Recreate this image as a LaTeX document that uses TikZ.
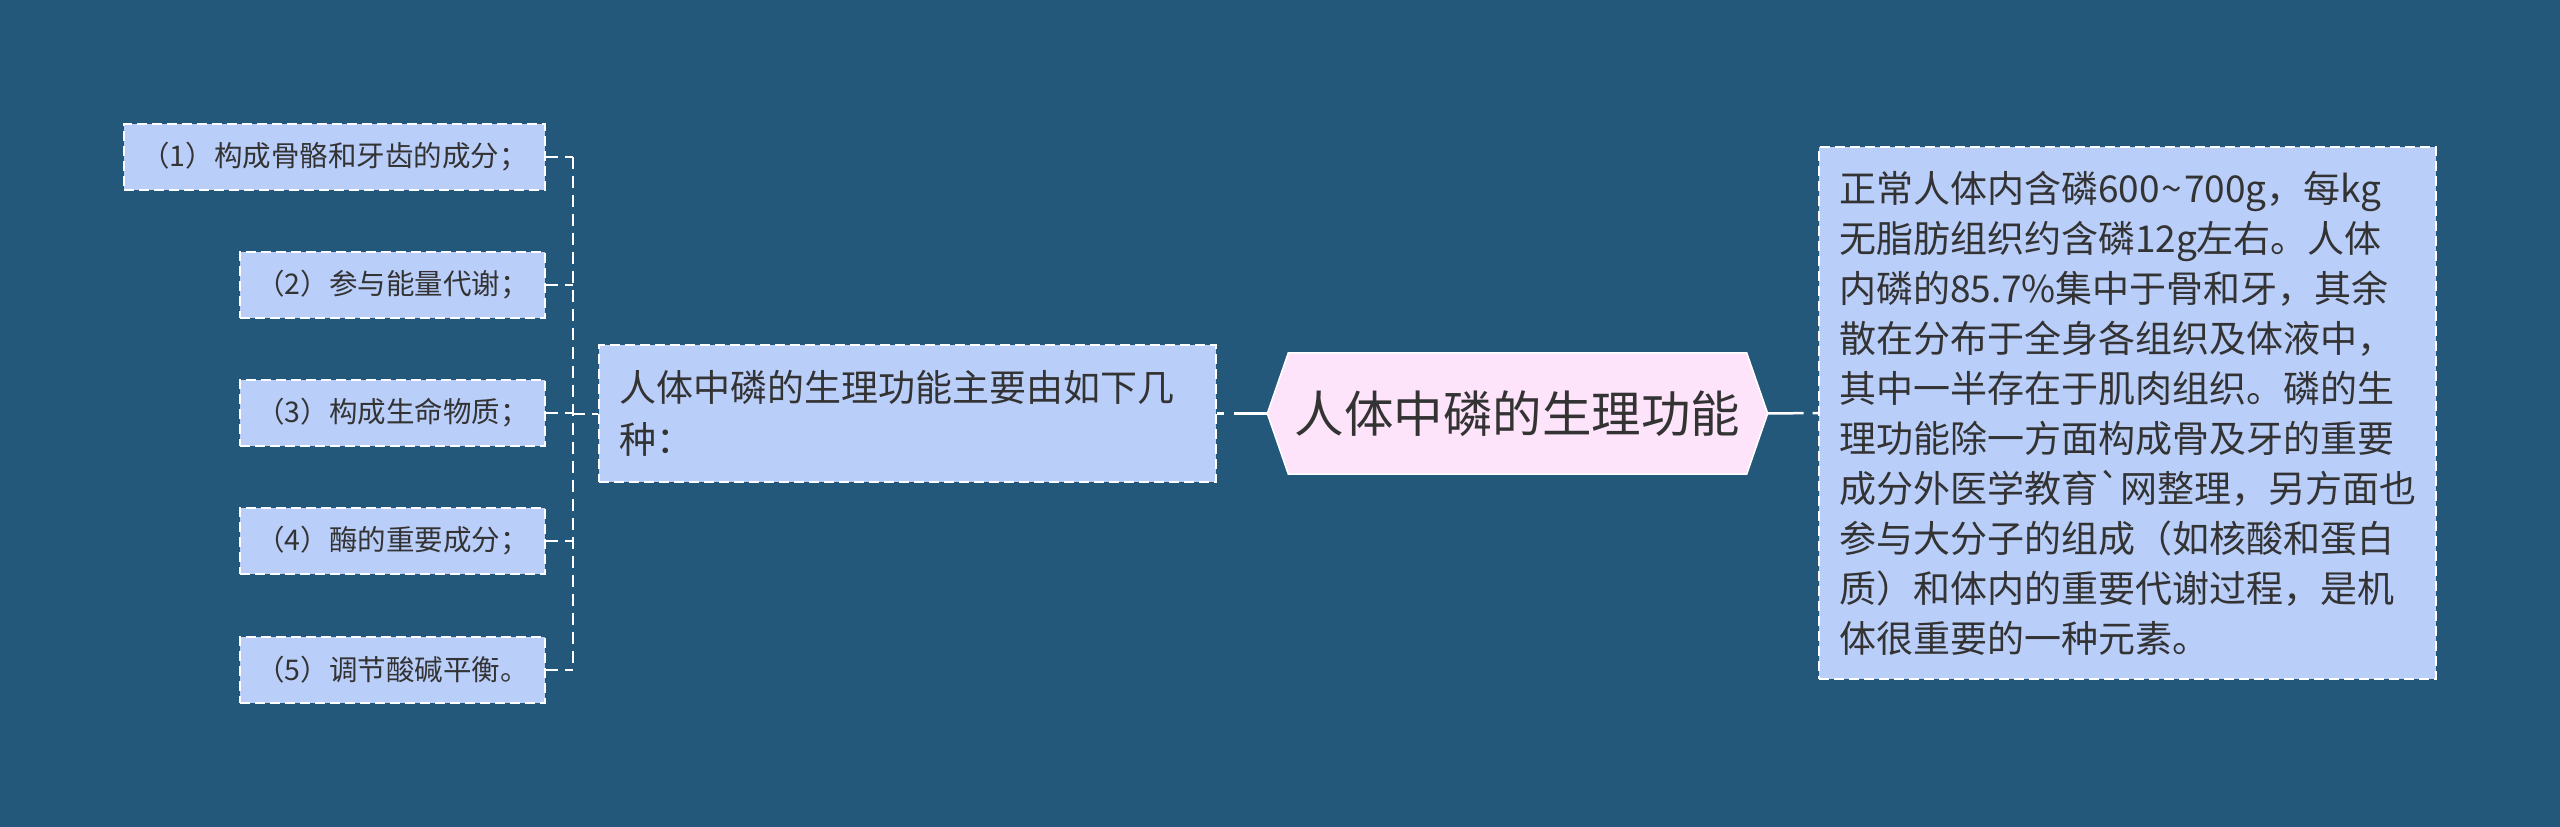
\documentclass[tikz,border=0pt]{standalone}
\usepackage{fontspec}
\setmainfont{Noto Sans CJK SC}
\setmonofont{Noto Sans CJK SC}
\usetikzlibrary{backgrounds}
\definecolor{bg}{RGB}{35,88,122}
\definecolor{boxfill}{RGB}{186,206,250}
\definecolor{hexfill}{RGB}{253,228,250}
\definecolor{txt}{RGB}{51,51,51}
\newcommand{\rawgrave}{{\ttfamily\symbol{96}}}
\newcommand{\rawtilde}{\kern2pt{\ttfamily\symbol{126}}\kern2pt}
\begin{document}
\begin{tikzpicture}[x=1pt,y=-1pt,
  leaf/.style={draw=white, line width=2pt, dash pattern=on 10pt off 5pt,
    fill=boxfill, text=txt, inner sep=0pt, minimum height=66pt,
    font=\fontsize{28.5}{34}\selectfont},
  midbox/.style={draw=white, line width=2pt, dash pattern=on 10pt off 5pt,
    fill=boxfill, text=txt, inner xsep=20pt, inner ysep=0pt,
    minimum width=617pt, minimum height=137pt, text width=577pt, align=left,
    font=\fontsize{37}{52}\selectfont},
  rbox/.style={draw=white, line width=2pt, dash pattern=on 10pt off 5pt,
    fill=boxfill, text=txt, inner xsep=20pt, inner ysep=0pt,
    minimum width=617pt, minimum height=532pt, text width=577pt, align=left,
    font=\fontsize{37}{50}\selectfont},
  hextext/.style={inner sep=0pt, minimum width=500pt, minimum height=121pt,
    text=txt, font=\fontsize{49.5}{56}\selectfont},
  tree/.style={draw=white, line width=2pt, dash pattern=on 12pt off 7pt},
  link/.style={draw=white, line width=2.5pt}
]
\useasboundingbox (0,0) rectangle (2560,827);

% left leaves
\node[leaf, minimum width=421pt] (b1) at (334.5,156.5) {（1）构成骨骼和牙齿的成分；};
\node[leaf, minimum width=305pt] (b2) at (392.5,284.5) {（2）参与能量代谢；};
\node[leaf, minimum width=305pt] (b3) at (392.5,412.5) {（3）构成生命物质；};
\node[leaf, minimum width=305pt] (b4) at (392.5,540.5) {（4）酶的重要成分；};
\node[leaf, minimum width=305pt] (b5) at (392.5,669.5) {（5）调节酸碱平衡。};

% middle box
\node[midbox] (m) at (907.5,413.5) {人体中磷的生理功能主要由如下几\\种：};

% central hexagon
\node[hextext] (hex) at (1517.5,413.5) {人体中磷的生理功能};

% right box
\node[rbox] (r) at (2127.5,413) {正常人体内含磷600\rawtilde700g，每kg\\
无脂肪组织约含磷12g左右。人体\\
内磷的85.7\%集中于骨和牙，其余\\
散在分布于全身各组织及体液中，\\
其中一半存在于肌肉组织。磷的生\\
理功能除一方面构成骨及牙的重要\\
成分外医学教育\rawgrave 网整理，另方面也\\
参与大分子的组成（如核酸和蛋白\\
质）和体内的重要代谢过程，是机\\
体很重要的一种元素。};

\begin{scope}[on background layer]
  \fill[bg] (0,0) rectangle (2560,827);
  \filldraw[fill=hexfill, draw=white, line width=1.5pt]
    (hex.west) -- ([xshift=21pt]hex.north west) -- ([xshift=-21pt]hex.north east)
    -- (hex.east) -- ([xshift=-21pt]hex.south east) -- ([xshift=21pt]hex.south west) -- cycle;
\end{scope}

% tree connectors
\coordinate (j) at (573,413.5);
\draw[tree] (b1.east -| j) -- (b5.east -| j);
\foreach \i in {1,...,5} {\draw[tree] (b\i.east) -- (b\i.east -| j);}
\draw[tree] (j) -- (m.west);

% links to the central node
\draw[link, dash pattern=on 7pt off 10pt on 60pt off 1pt] (m.east) -- (hex.west);
\draw[link, dash pattern=on 36pt off 9pt on 20pt off 1pt] (hex.east) -- (r.west);
\end{tikzpicture}
\end{document}
